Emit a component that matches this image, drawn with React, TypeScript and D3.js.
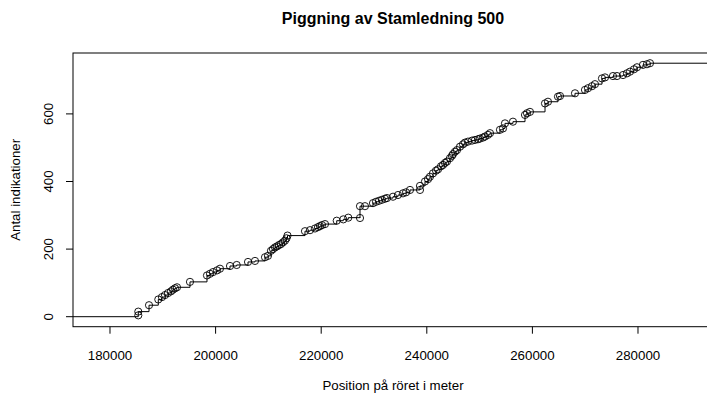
import React, { useRef, useEffect } from 'react';
import * as d3 from 'd3';

// position (m) and cumulative count of indications
const positions: number[] = [
  185360, 185360, 187390, 189150, 189850, 190420, 190990, 191550, 191930, 192310,
  192690, 195150, 198370, 198940, 199510, 200270, 200830, 202730, 204000, 206140,
  207460, 209360, 209920, 210490, 210870, 211250, 211630, 212010, 212390, 212760,
  213140, 213430, 213620, 216930, 217880, 218830, 219390, 219770, 220150, 220720,
  222940, 224190, 225130, 227350, 227350, 228290, 229810, 230380, 230950, 231510,
  232080, 232460, 233600, 234540, 235490, 236060, 236820, 238710, 238710, 239660,
  240230, 240600, 241170, 241740, 242120, 242690, 243070, 243450, 243820, 244390,
  244770, 244960, 245340, 245720, 246290, 246860, 247230, 247800, 248560, 249130,
  249700, 250070, 250640, 251020, 251590, 251970, 253860, 254430, 254810, 256320,
  258600, 258980, 259540, 262390, 262950, 264850, 265230, 268070, 269960, 270530,
  271290, 271850, 273180, 273750, 275260, 276020, 277160, 277910, 278480, 279240,
  279810, 280940, 281700, 282270,
];
const counts: number[] = [
  4, 15, 34, 51, 58, 64, 70, 75, 80, 84,
  87, 103, 122, 127, 132, 137, 142, 150, 153, 162,
  165, 176, 180, 195, 200, 205, 208, 212, 215, 220,
  225, 232, 240, 253, 256, 261, 265, 268, 271, 274,
  284, 288, 293, 292, 327, 327, 336, 340, 343, 346,
  349, 351, 355, 360, 365, 368, 375, 375, 387, 400,
  407, 414, 424, 432, 436, 445, 449, 455, 459, 469,
  476, 481, 488, 493, 503, 510, 515, 518, 521, 523,
  525, 527, 530, 533, 538, 543, 553, 557, 572, 577,
  597, 602, 606, 631, 636, 651, 653, 661, 671, 676,
  682, 688, 705, 708, 712, 712, 715, 720, 725, 732,
  738, 745, 747, 750,
];
const xTicks: number[] = [180000, 200000, 220000, 240000, 260000, 280000];
const yTicks: number[] = [0, 200, 400, 600];

const title = 'Piggning av Stamledning 500';
const xLabel = 'Position på röret i meter';
const yLabel = 'Antal indikationer';

const StepChart: React.FC = () => {
  const svgRef = useRef<SVGSVGElement>(null);

  useEffect(() => {
    if (svgRef.current === null) return;
    const svg = d3.select(svgRef.current);
    svg.selectAll('*').remove();

    const width = 707;
    const height = 394;
    const plot = { left: 73, right: 713, top: 53, bottom: 326.7 };
    const font = '"Liberation Sans", Arial, sans-serif';

    const x = d3.scaleLinear().domain([172993, 294205]).range([plot.left, plot.right]);
    const y = d3.scaleLinear().domain([-29.6, 780.2]).range([plot.bottom, plot.top]);

    svg.attr('width', width).attr('height', height);

    const pts: [number, number][] = positions.map((p, i) => [p, counts[i]]);
    const stepPts: [number, number][] = [
      [x.domain()[0], 0],
      ...pts,
      [x.domain()[1], counts[counts.length - 1]],
    ];

    const line = d3
      .line<[number, number]>()
      .x((d) => x(d[0]))
      .y((d) => y(d[1]))
      .curve(d3.curveStepAfter);

    svg
      .append('path')
      .attr('d', line(stepPts) ?? '')
      .attr('fill', 'none')
      .attr('stroke', '#000')
      .attr('stroke-width', 1);

    svg
      .append('g')
      .selectAll('circle')
      .data(pts)
      .join('circle')
      .attr('cx', (d) => x(d[0]))
      .attr('cy', (d) => y(d[1]))
      .attr('r', 3.6)
      .attr('fill', 'none')
      .attr('stroke', '#000')
      .attr('stroke-width', 0.9);

    // box
    svg
      .append('rect')
      .attr('x', plot.left)
      .attr('y', plot.top)
      .attr('width', plot.right - plot.left)
      .attr('height', plot.bottom - plot.top)
      .attr('fill', 'none')
      .attr('stroke', '#000')
      .attr('stroke-width', 1);

    // x axis
    const gx = svg.append('g');
    gx.selectAll('line')
      .data(xTicks)
      .join('line')
      .attr('x1', (d) => x(d))
      .attr('x2', (d) => x(d))
      .attr('y1', plot.bottom)
      .attr('y2', plot.bottom + 7)
      .attr('stroke', '#000');
    gx.selectAll('text')
      .data(xTicks)
      .join('text')
      .attr('x', (d) => x(d))
      .attr('y', 360)
      .attr('text-anchor', 'middle')
      .attr('font-family', font)
      .attr('font-size', 13.3)
      .attr('fill', '#000')
      .text((d) => String(d));

    // y axis
    const gy = svg.append('g');
    gy.selectAll('line')
      .data(yTicks)
      .join('line')
      .attr('x1', plot.left - 7)
      .attr('x2', plot.left)
      .attr('y1', (d) => y(d))
      .attr('y2', (d) => y(d))
      .attr('stroke', '#000');
    gy.selectAll('text')
      .data(yTicks)
      .join('text')
      .attr('transform', (d) => `translate(53,${y(d)}) rotate(-90)`)
      .attr('text-anchor', 'middle')
      .attr('font-family', font)
      .attr('font-size', 13.3)
      .attr('fill', '#000')
      .text((d) => String(d));

    svg
      .append('text')
      .attr('x', (plot.left + plot.right) / 2)
      .attr('y', 24)
      .attr('text-anchor', 'middle')
      .attr('font-family', font)
      .attr('font-weight', 'bold')
      .attr('font-size', 16)
      .attr('fill', '#000')
      .text(title);

    svg
      .append('text')
      .attr('x', (plot.left + plot.right) / 2)
      .attr('y', 390)
      .attr('text-anchor', 'middle')
      .attr('font-family', font)
      .attr('font-size', 13.3)
      .attr('fill', '#000')
      .text(xLabel);

    svg
      .append('text')
      .attr('transform', `translate(20,${(plot.top + plot.bottom) / 2}) rotate(-90)`)
      .attr('text-anchor', 'middle')
      .attr('font-family', font)
      .attr('font-size', 13.3)
      .attr('fill', '#000')
      .text(yLabel);
  }, []);

  return (
    <svg
      ref={svgRef}
      style={{ position: 'absolute', left: 0, top: 0, display: 'block', background: '#fff' }}
    />
  );
};

export default function App() {
  return <StepChart />;
}
